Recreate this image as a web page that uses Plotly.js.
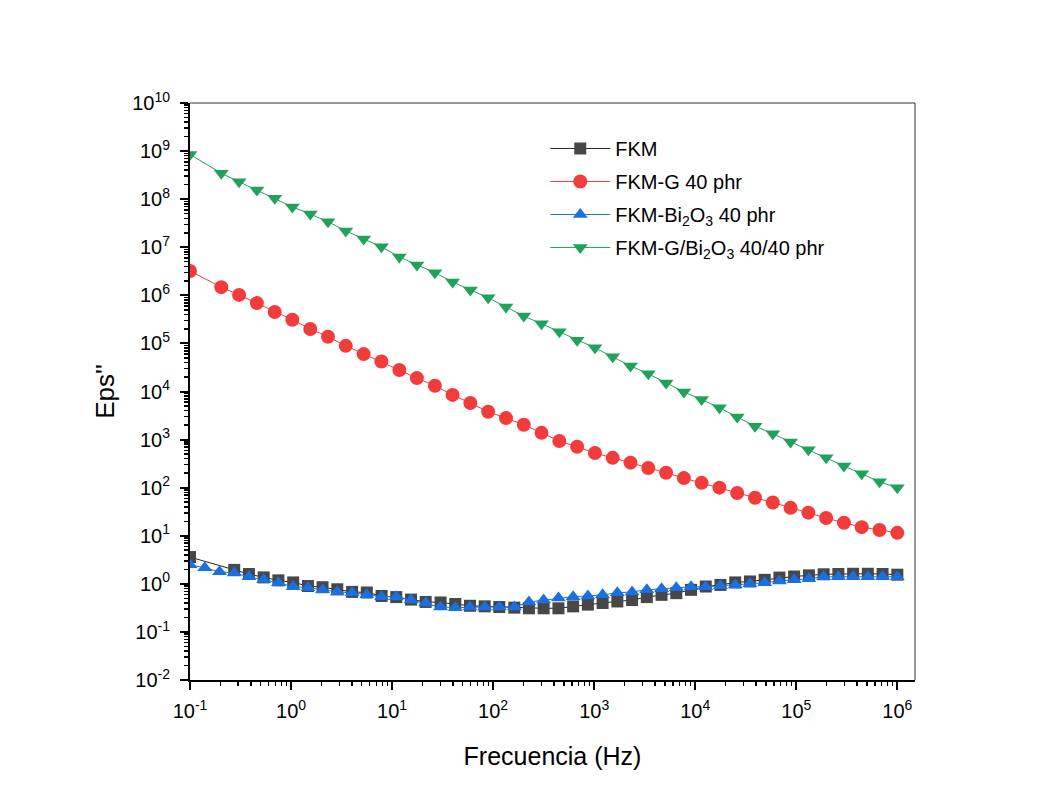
<!DOCTYPE html>
<html>
<head>
<meta charset="utf-8">
<script src="https://cdn.plot.ly/plotly-3.0.1.min.js"></script>
<style>html,body{margin:0;padding:0;background:#fff;}</style>
</head>
<body>
<div id="chart" style="width:1042px;height:808px;"></div>
<script>
// Frequencies (Hz) for the FKM-G and FKM-G/Bi2O3 measurements
const freqA = [0.1, 0.204, 0.306, 0.459, 0.689, 1.03, 1.55, 2.32, 3.48, 5.23, 7.84, 11.8, 17.6, 26.5, 39.7, 59.5, 89.3, 134, 201, 301, 452, 678, 1017, 1525, 2288, 3431, 5146, 7718, 11570, 17360, 26030, 39040, 58560, 87830, 131700, 197600, 296300, 444400, 666700, 1000000];
// Frequencies (Hz) for the FKM and FKM-Bi2O3 measurements
const freqB = [0.1, 0.140, 0.196, 0.274, 0.383, 0.536, 0.750, 1.05, 1.47, 2.05, 2.87, 4.02, 5.62, 7.87, 11.0, 15.4, 21.5, 30.2, 42.2, 59.0, 82.5, 115, 162, 226, 316, 443, 619, 866, 1212, 1695, 2371, 3318, 4642, 6494, 9085, 12710, 17780, 24880, 34810, 48700, 68130, 95320, 133400, 186600, 261000, 365200, 510900, 714800, 1000000];

const epsFKM = [3.6, null, null, 1.95, 1.6, 1.36, 1.18, 1.07, 0.9, 0.85, 0.77, 0.68, 0.66, 0.56, 0.53, 0.47, 0.42, 0.41, 0.38, 0.35, 0.34, 0.33, 0.32, 0.31, 0.31, 0.31, 0.34, 0.37, 0.40, 0.43, 0.46, 0.53, 0.59, 0.64, 0.75, 0.88, 0.95, 1.07, 1.12, 1.21, 1.35, 1.42, 1.5, 1.58, 1.6, 1.62, 1.62, 1.6, 1.55];
const epsG = [3.2e6, 1.48e6, 1.02e6, 6.9e5, 4.5e5, 3.1e5, 2.0e5, 1.38e5, 8.9e4, 6.0e4, 4.2e4, 2.8e4, 1.9e4, 1.32e4, 8.5e3, 5.75e3, 3.8e3, 2.8e3, 2.04e3, 1.38e3, 933, 708, 525, 417, 331, 257, 204, 158, 126, 100, 77.6, 61.7, 49, 38, 30.2, 23.4, 18.6, 15.1, 13.2, 11.5];
const epsBi = [2.5, 2.15, 1.78, 1.69, 1.4, 1.21, 1.05, 0.87, 0.83, 0.75, 0.68, 0.65, 0.59, 0.54, 0.54, 0.46, 0.40, 0.33, 0.32, 0.33, 0.33, 0.33, 0.33, 0.42, 0.46, 0.51, 0.54, 0.56, 0.59, 0.65, 0.68, 0.75, 0.79, 0.83, 0.87, 0.87, 0.91, 0.95, 1.0, 1.05, 1.15, 1.21, 1.27, 1.40, 1.40, 1.40, 1.40, 1.40, 1.40];
const epsGBi = [8.5e8, 3.47e8, 2.29e8, 1.55e8, 1.05e8, 6.9e7, 4.9e7, 3.4e7, 2.19e7, 1.48e7, 1.02e7, 6.3e6, 4.27e6, 2.95e6, 1.9e6, 1.29e6, 8.9e5, 5.75e5, 3.7e5, 2.57e5, 1.74e5, 1.17e5, 8.1e4, 5.25e4, 3.4e4, 2.34e4, 1.51e4, 9.8e3, 6.8e3, 4.6e3, 2.95e3, 1.9e3, 1.32e3, 891, 617, 417, 282, 195, 132, 100];

const seriesNames = ['FKM', 'FKM-G 40 phr', 'FKM-Bi<sub>2</sub>O<sub>3</sub> 40 phr', 'FKM-G/Bi<sub>2</sub>O<sub>3</sub> 40/40 phr'];

const xTickVals = [0.1, 1, 10, 100, 1000, 1e4, 1e5, 1e6];
const xTickText = ['10<sup>-1</sup>', '10<sup>0</sup>', '10<sup>1</sup>', '10<sup>2</sup>', '10<sup>3</sup>', '10<sup>4</sup>', '10<sup>5</sup>', '10<sup>6</sup>'];
const yTickVals = [1e-2, 1e-1, 1, 10, 100, 1e3, 1e4, 1e5, 1e6, 1e7, 1e8, 1e9, 1e10];
const yTickText = ['10<sup>-2</sup>', '10<sup>-1</sup>', '10<sup>0</sup>', '10<sup>1</sup>', '10<sup>2</sup>', '10<sup>3</sup>', '10<sup>4</sup>', '10<sup>5</sup>', '10<sup>6</sup>', '10<sup>7</sup>', '10<sup>8</sup>', '10<sup>9</sup>', '10<sup>10</sup>'];

function minorTicks(lo, hi) {
  const out = [];
  for (let e = lo; e < hi; e++) {
    for (let m = 2; m <= 9; m++) out.push(m * Math.pow(10, e));
  }
  return out;
}

function trace(x, y, name, color, lineColor, symbol, size, group) {
  return {
    x: x, y: y, name: name, type: 'scatter', mode: 'lines+markers',
    connectgaps: true, legendgroup: group,
    line: {color: lineColor, width: 1},
    marker: {color: color, symbol: symbol, size: size, line: {width: 0}}
  };
}

const data = [
  trace(freqB, epsFKM, seriesNames[0], '#474747', '#222222', 'square', 12, 'a'),
  trace(freqA, epsG, seriesNames[1], '#F23C3C', '#F23C3C', 'circle', 14, 'b'),
  trace(freqB, epsBi, seriesNames[2], '#1B6FE0', '#1B6FE0', 'triangle-up', 13, 'c'),
  trace(freqA, epsGBi, seriesNames[3], '#21A25C', '#21A25C', 'triangle-down', 13, 'd')
];

const axisBase = {
  type: 'log', showgrid: false, zeroline: false,
  showline: true, linewidth: 2, linecolor: '#000',
  ticks: 'outside', ticklen: 8, tickwidth: 2, tickcolor: '#000',
  tickmode: 'array', tickfont: {size: 20, color: '#000'}
};

const layout = {
  width: 1042, height: 808,
  paper_bgcolor: '#fff', plot_bgcolor: '#fff',
  margin: {l: 190, r: 127, t: 103, b: 128},
  font: {family: 'Liberation Sans, Arial, sans-serif', color: '#000'},
  showlegend: true,
  xaxis: Object.assign({}, axisBase, {
    range: [-1, 6.175], tickvals: xTickVals, ticktext: xTickText,
    ticklabelstandoff: 4,
    title: {text: 'Frecuencia (Hz)', font: {size: 25}, standoff: 26},
    minor: {tickmode: 'array', tickvals: minorTicks(-1, 7), ticks: 'outside', ticklen: 4, tickwidth: 1.5, tickcolor: '#000', showgrid: false}
  }),
  yaxis: Object.assign({}, axisBase, {
    range: [-2, 10], tickvals: yTickVals, ticktext: yTickText,
    ticklabelstandoff: 6,
    title: {text: "Eps''", font: {size: 26}, standoff: 10},
    minor: {tickmode: 'array', tickvals: minorTicks(-2, 10), ticks: 'outside', ticklen: 4, tickwidth: 1.5, tickcolor: '#000', showgrid: false}
  }),
  legend: {
    x: 0.49, y: 0.955, xanchor: 'left', yanchor: 'top',
    bgcolor: 'rgba(0,0,0,0)', borderwidth: 0,
    font: {size: 20, color: '#000'},
    traceorder: 'grouped', tracegroupgap: 4, itemwidth: 60
  },
  shapes: [
    {type: 'line', xref: 'paper', yref: 'paper', x0: 0, x1: 1, y0: 1, y1: 1, line: {color: '#333', width: 1}},
    {type: 'line', xref: 'paper', yref: 'paper', x0: 1, x1: 1, y0: 0, y1: 1, line: {color: '#333', width: 1}}
  ]
};

Plotly.newPlot('chart', data, layout, {displayModeBar: false, staticPlot: true});
</script>
</body>
</html>
